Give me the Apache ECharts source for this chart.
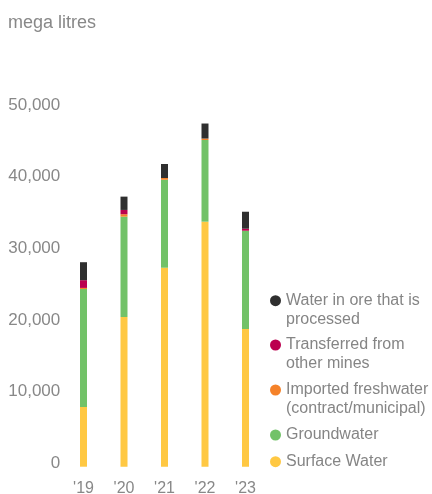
<!DOCTYPE html>
<html>
<head>
<meta charset="utf-8">
<script src="https://cdn.jsdelivr.net/npm/echarts@6/dist/echarts.min.js"></script>
<style>
  html, body { margin: 0; padding: 0; background: #fff; }
  #chart { width: 432px; height: 494px; }
</style>
</head>
<body>
<div id="chart"></div>
<script>
// Water withdrawal by source, mega litres
const years = ["'19", "'20", "'21", "'22", "'23"];
const surfaceWater = [8340, 20910, 27790, 34220, 19230];
const groundwater = [16480, 14010, 12290, 11410, 13730];
const importedFreshwater = [150, 340, 240, 200, 0];
const transferredFromMines = [1080, 600, 0, 0, 280];
const waterInOre = [2510, 1860, 1960, 2100, 2370];

const yTicks = [0, 10000, 20000, 30000, 40000, 50000];

const seriesDefs = [
  { name: 'Surface Water', data: surfaceWater, color: '#ffc843' },
  { name: 'Groundwater', data: groundwater, color: '#72c268' },
  { name: 'Imported freshwater\n(contract/municipal)', data: importedFreshwater, color: '#f58229' },
  { name: 'Transferred from\nother mines', data: transferredFromMines, color: '#bb004f' },
  { name: 'Water in ore that is\nprocessed', data: waterInOre, color: '#2f2f2f' }
];

const FONT = 'Liberation Sans, Arial, sans-serif';
const GREY = '#888888';

// Legend rows, top to bottom; icon sits level with the first text line
const legendRows = [
  { idx: 4, y: 300.7 },
  { idx: 3, y: 345 },
  { idx: 2, y: 390 },
  { idx: 1, y: 435 },
  { idx: 0, y: 461.7 }
];
const LINE_H = 19;

const legends = legendRows.map(function (row) {
  const def = seriesDefs[row.idx];
  const lines = def.name.split('\n').length;
  // for wrapped names, pad with blank lines above so the first line is centred on the icon
  const blanks = lines - 1;
  const boxHalf = (lines + blanks) * LINE_H / 2;
  return {
    orient: 'vertical',
    left: 270,
    top: row.y - boxHalf,
    padding: 0,
    itemWidth: 11,
    itemHeight: 11,
    icon: 'circle',
    selectedMode: false,
    data: [def.name],
    formatter: function (name) {
      return '\n'.repeat(blanks) + name;
    },
    textStyle: {
      fontFamily: FONT,
      fontSize: 16,
      color: '#858585',
      lineHeight: LINE_H
    }
  };
});

const chart = echarts.init(document.getElementById('chart'));
chart.setOption({
  animation: false,
  title: {
    text: 'mega litres',
    left: 8,
    top: 14,
    padding: 0,
    textStyle: { fontFamily: FONT, fontSize: 18, fontWeight: 'normal', color: GREY }
  },
  legend: legends,
  grid: {
    left: 63.25, right: 166.25, top: 108.7, bottom: 27.3,
    containLabel: false,
    outerBoundsMode: 'none'
  },
  xAxis: {
    type: 'category',
    data: years,
    axisLine: { show: false },
    axisTick: { show: false },
    axisLabel: { margin: 14, fontFamily: FONT, fontSize: 16, color: GREY }
  },
  yAxis: {
    type: 'value',
    min: yTicks[0],
    max: yTicks[yTicks.length - 1],
    interval: yTicks[1] - yTicks[0],
    axisLine: { show: false },
    axisTick: { show: false },
    splitLine: { show: false },
    axisLabel: {
      margin: 3,
      fontFamily: FONT,
      color: GREY,
      // a short spacer line under each value lifts the label slightly above its tick
      formatter: function (v) { return '{v|' + v.toLocaleString('en-US') + '}\n{s| }'; },
      rich: {
        v: { fontFamily: FONT, fontSize: 17, color: GREY, lineHeight: 20 },
        s: { fontSize: 1, lineHeight: 7 }
      }
    }
  },
  series: seriesDefs.map(function (d) {
    return {
      name: d.name,
      type: 'bar',
      stack: 'total',
      barWidth: 7,
      data: d.data,
      itemStyle: { color: d.color },
      emphasis: { disabled: true }
    };
  })
});
</script>
</body>
</html>
